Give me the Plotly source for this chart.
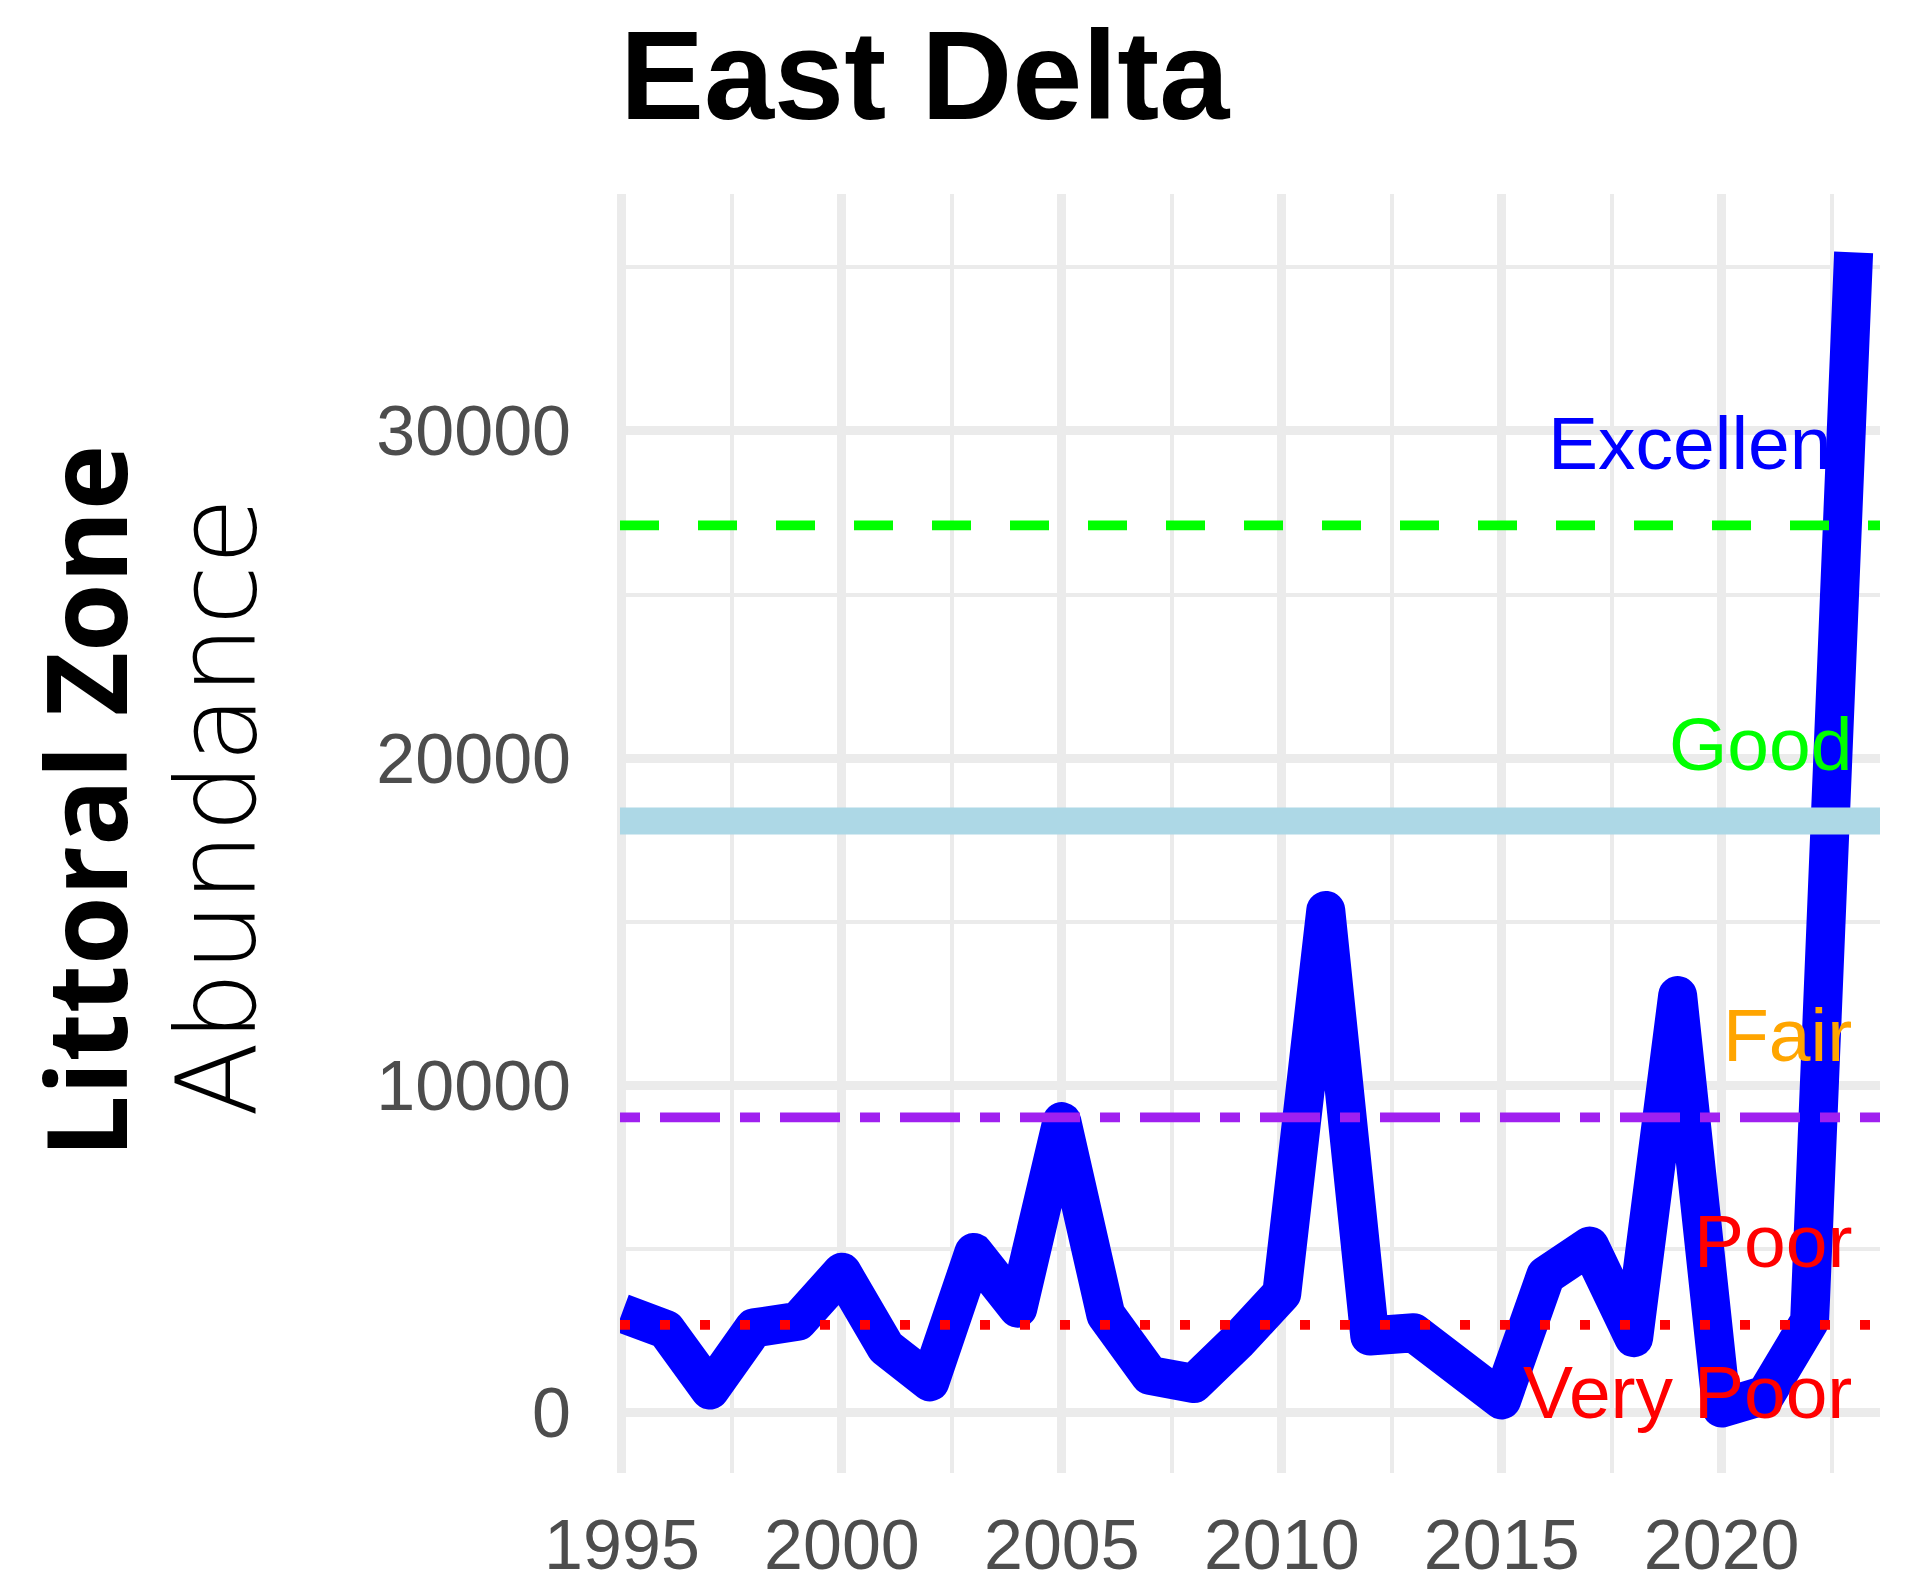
import plotly.graph_objects as go

# ---- data ----
years = list(range(1995, 2024))
abundance = [3050, 2550, 700, 2600, 2800, 4300, 2000, 950, 4900, 3200,
             8900, 3000, 1150, 900, 2200, 3650, 15350, 2350, 2450, 1600,
             400, 4200, 5100, 2300, 12750, 150, 550, 2800, 35450]

threshold_values = [27110, 18080, 9030, 2690]
threshold_colors = ["#00FF00", "#ADD8E6", "#A020F0", "#FF0000"]
threshold_widths = [9.75, 27, 9.75, 9.75]
threshold_dashes = ["39px,39px", "solid", "20px,20px,60px,20px", "10px,30px"]

label_texts = ["Excellent", "Good", "Fair", "Poor", "Very Poor"]
label_colors = ["#0000FF", "#00FF00", "#FFA500", "#FF0000", "#FF0000"]
label_y = [29630, 20420, 11550, 5250, 640]

x_ticks = [1995, 2000, 2005, 2010, 2015, 2020]
y_ticks = [0, 10000, 20000, 30000]
y_ticktext = ["0", "10000", "20000", "30000"]

W, H = 1921, 1583
L, R, T, B = 620, 41, 194, 110
pw = W - L - R
ph = H - T - B

fig = go.Figure()
fig.add_trace(go.Scatter(x=years, y=abundance, mode="lines",
                         line=dict(color="#0000FF", width=39),
                         hoverinfo="skip", showlegend=False))

for v, c, w, d in zip(threshold_values, threshold_colors, threshold_widths, threshold_dashes):
    fig.add_hline(y=v, line=dict(color=c, width=w, dash=d), layer="above")

for t, c, yv in zip(label_texts, label_colors, label_y):
    fig.add_annotation(x=2023, y=yv, xref="x", yref="y", text=t, showarrow=False,
                       xanchor="right", yanchor="middle",
                       font=dict(family="Liberation Sans, Arial", size=75, color=c))

def px_x(p):
    return (p - L) / pw

def px_y(p):
    return (H - B - p) / ph

fig.add_annotation(x=px_x(84), y=px_y(802), xref="paper", yref="paper",
                   text="<b>Littoral Zone</b>", showarrow=False, textangle=-90,
                   xanchor="center", yanchor="middle",
                   font=dict(family="Open Sans", size=111, color="black", weight=800))
fig.add_annotation(x=px_x(217), y=px_y(807), xref="paper", yref="paper",
                   text="Abundance", showarrow=False, textangle=-90,
                   xanchor="center", yanchor="middle",
                   font=dict(family="DejaVu Sans", size=110, color="black", weight=200))

grid = "#EBEBEB"
tickfont = dict(family="Liberation Sans, Arial", size=70, color="#4D4D4D")

fig.update_layout(
    width=W, height=H,
    margin=dict(l=L, r=R, t=T, b=B, pad=0, autoexpand=False),
    paper_bgcolor="white", plot_bgcolor="white",
    title=dict(text="<b>East Delta</b>", x=0, xref="paper", xanchor="left",
               y=1 - 31 / H, yref="container", yanchor="top",
               font=dict(family="Liberation Sans, Arial", size=126, color="black")),
    xaxis=dict(range=[1994.955, 2023.6], tickvals=x_ticks, showgrid=True, automargin=False,
               gridcolor=grid, gridwidth=8.5, zeroline=False, showline=False,
               ticks="", ticklabelstandoff=25, tickfont=tickfont,
               minor=dict(dtick=2.5, tick0=1995, showgrid=True, gridcolor=grid, gridwidth=4.3)),
    yaxis=dict(range=[-1833, 37233], tickvals=y_ticks, ticktext=y_ticktext, showgrid=True,
               automargin=False,
               gridcolor=grid, gridwidth=8.5, zeroline=False, showline=False,
               ticks="", ticklabelstandoff=48, tickfont=tickfont,
               minor=dict(dtick=5000, tick0=0, showgrid=True, gridcolor=grid, gridwidth=4.3)),
)

post = """
var s=document.createElement('style');
s.innerHTML='html,body{margin:0;padding:0;} .scatterlayer .js-line{stroke-linejoin:round !important;}';
document.head.appendChild(s);
"""
fig.write_html("out.html", post_script=post, config={"displayModeBar": False})
